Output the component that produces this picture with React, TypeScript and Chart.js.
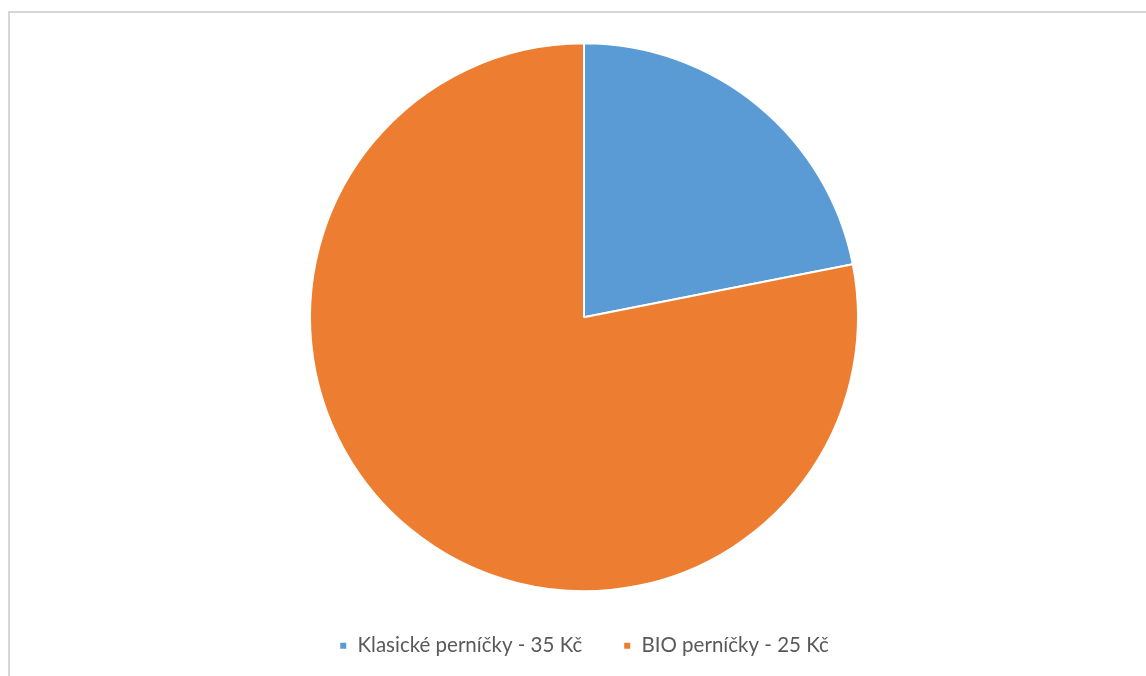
import React, { useEffect, useRef } from "react";
import { Chart, registerables } from "chart.js";

Chart.register(...registerables);

const categories = ["Klasické perníčky - 35 Kč", "BIO perníčky - 25 Kč"];
const values = [23, 82];
const colors = ["#5B9BD5", "#ED7D31"];

export default function App() {
  const ref = useRef<HTMLCanvasElement | null>(null);

  useEffect(() => {
    if (!ref.current) return;
    const chart = new Chart(ref.current, {
      type: "pie",
      data: {
        labels: categories,
        datasets: [
          {
            data: values,
            backgroundColor: colors,
            borderColor: "#ffffff",
            borderWidth: 2,
          },
        ],
      },
      options: {
        animation: false,
        responsive: false,
        maintainAspectRatio: false,
        radius: 274,
        layout: { padding: 0 },
        plugins: {
          tooltip: { enabled: false },
          legend: {
            position: "bottom",
            labels: {
              boxWidth: 8,
              boxHeight: 8,
              padding: 41,
              color: "#595959",
              font: { family: "Lato", size: 20.5 },
            },
          },
        },
      },
    } as any);
    return () => chart.destroy();
  }, []);

  return (
    <div
      style={{
        position: "fixed",
        left: 0,
        top: 0,
        width: 1146,
        height: 676,
        overflow: "hidden",
        background: "#fff",
      }}
    >
      <div
        style={{
          position: "absolute",
          left: 8,
          top: 11,
          width: 1200,
          height: 700,
          border: "2px solid #d6d6d6",
          boxSizing: "border-box",
        }}
      />
      <canvas
        ref={ref}
        width={1148}
        height={626}
        style={{ position: "absolute", left: 10, top: 40, width: 1148, height: 626 }}
      />
    </div>
  );
}
